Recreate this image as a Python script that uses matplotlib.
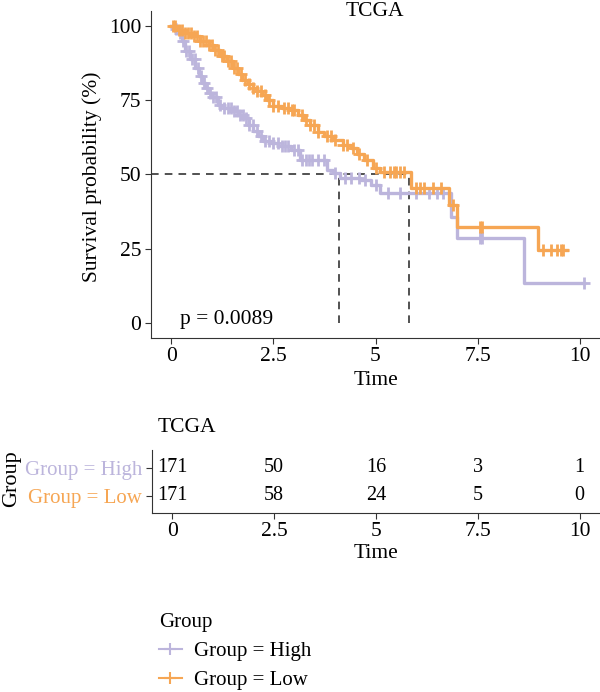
import numpy as np
import matplotlib
matplotlib.use("Agg")
import matplotlib.pyplot as plt
from matplotlib.lines import Line2D

plt.rcParams['font.family'] = ['Liberation Serif', 'DejaVu Serif']

# colours of the two groups
col_high = "#bcb5dc"
col_low = "#f6a654"

# Kaplan-Meier step points (time, survival %)
high_t = [0, 0.1, 0.17, 0.25, 0.34, 0.45, 0.59, 0.68, 0.76, 0.85, 0.91, 1.0, 1.15, 1.3,
          1.5, 1.65, 1.77, 1.9, 2.01, 2.12, 2.24, 2.43, 2.62, 2.92, 3.16, 3.82, 3.95,
          4.14, 4.63, 4.88, 5.12, 6.84, 7.0, 8.63, 10.1]
high_s = [100, 99, 97.6, 95, 91.6, 89, 85.9, 83, 80.8, 79, 77.4, 76, 73.4, 72.5,
          71.4, 70, 69.0, 66.5, 64.6, 63, 61.3, 60.6, 59.6, 58.2, 54.9, 51.5, 50.5,
          48.8, 48.1, 46.5, 43.8, 35.7, 28.6, 13.5, 13.5]

low_t = [0, 0.15, 0.3, 0.51, 0.7, 0.91, 1.05, 1.2, 1.35, 1.5, 1.62, 1.74, 1.87, 1.99,
         2.1, 2.23, 2.35, 2.48, 2.7, 2.92, 3.1, 3.24, 3.4, 3.58, 3.75, 3.97, 4.2, 4.39,
         4.55, 4.71, 4.95, 5.1, 5.86, 6.8, 7.0, 8.97, 9.7]
low_s = [100, 98.6, 97.6, 96.6, 95, 93.6, 92, 89.9, 88, 85.9, 83.8, 81.8, 80.5, 79.1,
         78, 76.8, 75, 73.1, 72.3, 71.7, 70, 68.4, 66.5, 64.3, 63, 61.6, 60, 58.9,
         57, 54.9, 52.2, 50.8, 45.4, 39.7, 32.3, 24.6, 24.6]

# censoring times
high_cens = [0.12, 0.2, 0.28, 0.35, 0.42, 0.5, 0.58, 0.65, 0.72, 0.8, 0.88, 0.95, 1.03,
             1.1, 1.2, 1.3, 1.38, 1.45, 1.53, 1.6, 1.68, 1.75, 1.83, 1.9, 2.0, 2.1, 2.2,
             2.3, 2.4, 2.5, 2.6, 2.7, 2.78, 2.85, 3.0, 3.1, 3.2, 3.3, 3.38, 3.45, 3.6,
             3.75, 4.0, 4.25, 4.4, 4.6, 4.75, 5.0, 5.3, 5.6, 6.0, 6.3, 6.5, 6.65,
             7.55, 7.62, 10.1]
low_cens = [0.05, 0.1, 0.18, 0.25, 0.33, 0.4, 0.48, 0.55, 0.63, 0.7, 0.78, 0.85, 0.93,
            1.0, 1.08, 1.15, 1.23, 1.3, 1.38, 1.45, 1.53, 1.6, 1.7, 1.8, 1.9, 2.0, 2.1,
            2.2, 2.3, 2.4, 2.5, 2.6, 2.75, 2.85, 2.95, 3.0, 3.2, 3.3, 3.4, 3.5, 3.6,
            3.8, 3.9, 4.0, 4.2, 4.3, 4.45, 4.6, 4.8, 5.0, 5.2, 5.35, 5.45, 5.5, 5.6,
            5.7, 6.0, 6.1, 6.2, 6.4, 6.6, 6.9, 7.55, 7.62, 9.1, 9.3, 9.45, 9.55, 9.6]

medians = [4.1, 5.82]

# numbers at risk
risk_times = [0, 2.5, 5, 7.5, 10]
risk_high = [171, 50, 16, 3, 1]
risk_low = [171, 58, 24, 5, 0]

fs = 15.5

fig = plt.figure(figsize=(6, 6.92), dpi=100)
W, H = 600, 692


def box(l, t, r, b):
    return [l / W, 1 - b / H, (r - l) / W, (b - t) / H]


def surv_at(times, surv, x):
    i = np.searchsorted(times, x, side="right") - 1
    return np.array(surv)[i]


# main survival plot ----------------------------------------------------------
ax = fig.add_axes(box(151, 11, 600, 337.7))
for t, s, c, cens in [(high_t, high_s, col_high, high_cens), (low_t, low_s, col_low, low_cens)]:
    ax.step(t, s, where="post", color=c, lw=2.4, zorder=3)
    ax.plot(cens, surv_at(t, s, np.array(cens)), ls="none", marker="+", ms=8,
            mew=2.0, color=c, zorder=3)

ax.plot([-0.5, medians[1]], [50, 50], ls=(0, (5, 4)), color="#222222", lw=1.1, zorder=2)
for m in medians:
    ax.plot([m, m], [0, 50], ls=(0, (5, 4)), color="#222222", lw=1.1, zorder=2)

ax.text(0.22, 1, "p = 0.0089", fontsize=fs, va="center", ha="left")
ax.set_xlim(-0.5, 10.5)
ax.set_ylim(-5, 105)
ax.set_xticks([0, 2.5, 5, 7.5, 10])
ax.set_xticklabels(["0", "2.5", "5", "7.5", "10"])
ax.set_yticks([0, 25, 50, 75, 100])
for sp in ["top", "right"]:
    ax.spines[sp].set_visible(False)
for sp in ["left", "bottom"]:
    ax.spines[sp].set_color("#333333")
ax.tick_params(labelsize=fs, length=4, color="#333333", pad=3)
ax.set_xlabel("Time", fontsize=fs, labelpad=3)
fig.text(92 / W, 1 - 177 / H, "Survival probability (%)", fontsize=fs, rotation=90,
         ha="center", va="center")
fig.text(375 / W, 1 - 12 / H, "TCGA", fontsize=fs, ha="center", va="center")

# risk table ------------------------------------------------------------------
rx = fig.add_axes(box(151.7, 450, 600, 512.7))
for x, n in zip(risk_times, risk_high):
    rx.text(x, 2, str(n), ha="center", va="center", fontsize=14.5)
for x, n in zip(risk_times, risk_low):
    rx.text(x, 1, str(n), ha="center", va="center", fontsize=14.5)
rx.set_xlim(-0.5, 10.5)
rx.set_ylim(0.4, 2.64)
rx.set_xticks([0, 2.5, 5, 7.5, 10])
rx.set_xticklabels(["0", "2.5", "5", "7.5", "10"])
rx.set_yticks([2, 1])
rx.set_yticklabels(["Group = High", "Group = Low"])
for lab, c in zip(rx.get_yticklabels(), [col_high, col_low]):
    lab.set_color(c)
for sp in ["top", "right"]:
    rx.spines[sp].set_visible(False)
for sp in ["left", "bottom"]:
    rx.spines[sp].set_color("#333333")
rx.tick_params(axis="x", labelsize=fs, length=4, color="#333333", pad=3)
rx.tick_params(axis="y", labelsize=15, length=4, color="#333333", pad=3)
rx.set_xlabel("Time", fontsize=fs, labelpad=2)
fig.text(158 / W, 1 - 428 / H, "TCGA", fontsize=fs, ha="left", va="center")
fig.text(12 / W, 1 - 479 / H, "Group", fontsize=16, rotation=90, ha="center", va="center")

# legend ----------------------------------------------------------------------
handles = [Line2D([], [], color=col_high, marker="+", ms=9, mew=1.5, lw=1.5),
           Line2D([], [], color=col_low, marker="+", ms=9, mew=1.5, lw=1.5)]
leg = fig.legend(handles, ["Group = High", "Group = Low"], title="Group",
                 loc="upper left", bbox_to_anchor=(159 / W, 1 - 613 / H),
                 frameon=False, fontsize=15, title_fontsize=15, handlelength=1.1,
                 handletextpad=0.6, labelspacing=0.45, alignment="left",
                 borderpad=0, borderaxespad=0)

fig.savefig("out.png", dpi=100)
